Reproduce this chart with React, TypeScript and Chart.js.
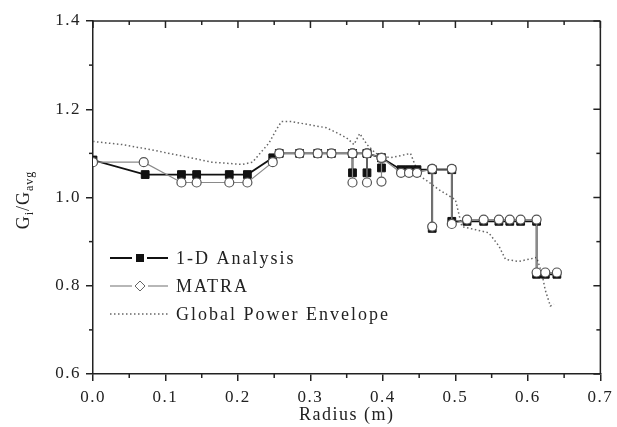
import React, { useEffect, useRef } from 'react';
import { Chart, registerables } from 'chart.js';

Chart.register(...registerables);

// ---- data ----
const radius1D = [0, 0.072, 0.122, 0.143, 0.188, 0.213, 0.248, 0.257, 0.285, 0.31, 0.329, 0.358, 0.358, 0.358, 0.378, 0.378, 0.378, 0.398, 0.398, 0.398, 0.425, 0.436, 0.447, 0.468, 0.468, 0.468, 0.495, 0.495, 0.516, 0.539, 0.56, 0.575, 0.59, 0.612, 0.612, 0.624, 0.64];
const ratio1D = [1.085, 1.052, 1.052, 1.052, 1.052, 1.052, 1.09, 1.1, 1.1, 1.1, 1.1, 1.1, 1.056, 1.1, 1.1, 1.056, 1.1, 1.09, 1.067, 1.09, 1.063, 1.063, 1.063, 1.063, 0.93, 1.063, 1.063, 0.946, 0.946, 0.946, 0.946, 0.946, 0.946, 0.946, 0.826, 0.826, 0.826];

const radiusMATRA = [0, 0.07, 0.122, 0.143, 0.188, 0.213, 0.248, 0.257, 0.285, 0.31, 0.329, 0.358, 0.358, 0.358, 0.378, 0.378, 0.378, 0.398, 0.398, 0.398, 0.425, 0.436, 0.447, 0.468, 0.468, 0.468, 0.495, 0.495, 0.516, 0.539, 0.56, 0.575, 0.59, 0.612, 0.612, 0.624, 0.64];
const ratioMATRA = [1.08, 1.08, 1.034, 1.034, 1.034, 1.034, 1.08, 1.1, 1.1, 1.1, 1.1, 1.1, 1.034, 1.1, 1.1, 1.034, 1.1, 1.09, 1.036, 1.09, 1.056, 1.056, 1.056, 1.065, 0.934, 1.065, 1.065, 0.94, 0.95, 0.95, 0.95, 0.95, 0.95, 0.95, 0.83, 0.83, 0.83];

const radiusEnvelope = [0, 0.04, 0.081, 0.12, 0.164, 0.206, 0.22, 0.243, 0.253, 0.26, 0.274, 0.298, 0.322, 0.336, 0.35, 0.36, 0.368, 0.378, 0.39, 0.41, 0.425, 0.438, 0.45, 0.464, 0.477, 0.5, 0.509, 0.528, 0.546, 0.56, 0.569, 0.587, 0.612, 0.619, 0.624, 0.631, 0.636];
const ratioEnvelope = [1.127, 1.12, 1.108, 1.095, 1.08, 1.075, 1.08, 1.124, 1.154, 1.172, 1.172, 1.165, 1.158, 1.147, 1.135, 1.12, 1.145, 1.12, 1.1, 1.09, 1.095, 1.1, 1.05, 1.034, 1.018, 0.995, 0.934, 0.927, 0.92, 0.89, 0.86, 0.855, 0.864, 0.83, 0.79, 0.754, 0.758];

const xTicks = [0, 0.1, 0.2, 0.3, 0.4, 0.5, 0.6, 0.7];
const xMinorTicks = [0.05, 0.15, 0.25, 0.35, 0.45, 0.55, 0.65];
const yTicks = [0.6, 0.8, 1.0, 1.2, 1.4];
const yMinorTicks = [0.7, 0.9, 1.1, 1.3];

const legendLabels = ['1-D Analysis', 'MATRA', 'Global Power Envelope'];
const xTitle = 'Radius (m)';
const yTitleParts = [['G', 0], ['i', 1], ['/G', 0], ['avg', 1]];

const FONT = '"Liberation Serif", "Times New Roman", serif';
const INK = '#222';

const pts = (xs: number[], ys: number[]) => xs.map((x, i) => ({ x, y: ys[i] }));

const decorPlugin = {
  id: 'decor',
  beforeDraw(chart: any) {
    (chart.ctx as any).letterSpacing = '1.5px';
  },
  afterDraw(chart: any) {
    const { ctx, chartArea: a, scales } = chart;
    const xs = scales.x;
    const ys = scales.y;
    ctx.save();
    ctx.strokeStyle = INK;
    ctx.lineWidth = 1.5;
    const line = (x1: number, y1: number, x2: number, y2: number) => {
      ctx.beginPath();
      ctx.moveTo(x1, y1);
      ctx.lineTo(x2, y2);
      ctx.stroke();
    };
    // top and right frame
    line(a.left, a.top, a.right, a.top);
    line(a.right, a.top, a.right, a.bottom);
    // ticks
    xTicks.forEach((v) => {
      const p = xs.getPixelForValue(v);
      line(p, a.top, p, a.top + 7);
    });
    xMinorTicks.forEach((v) => {
      const p = xs.getPixelForValue(v);
      line(p, a.bottom, p, a.bottom + 4);
      line(p, a.top, p, a.top + 4);
    });
    yTicks.forEach((v) => {
      const p = ys.getPixelForValue(v);
      line(a.right, p, a.right - 7, p);
    });
    yMinorTicks.forEach((v) => {
      const p = ys.getPixelForValue(v);
      line(a.left - 4, p, a.left, p);
      line(a.right, p, a.right - 4, p);
    });

    // y title with subscripts
    ctx.fillStyle = INK;
    (ctx as any).letterSpacing = '1px';
    ctx.textBaseline = 'middle';
    ctx.textAlign = 'left';
    const big = `18px ${FONT}`;
    const small = `12px ${FONT}`;
    let total = 0;
    yTitleParts.forEach(([t, sub]) => {
      ctx.font = sub ? small : big;
      total += ctx.measureText(t as string).width;
    });
    ctx.save();
    ctx.translate(24, 200);
    ctx.rotate(-Math.PI / 2);
    let cx = -total / 2;
    yTitleParts.forEach(([t, sub]) => {
      ctx.font = sub ? small : big;
      ctx.fillText(t as string, cx, sub ? 6 : 0);
      cx += ctx.measureText(t as string).width;
    });
    ctx.restore();

    // legend
    const rows = [258, 286, 314];
    (ctx as any).letterSpacing = '2px';
    ctx.font = `18px ${FONT}`;
    rows.forEach((ry, i) => {
      ctx.save();
      if (i === 0) {
        ctx.strokeStyle = '#111';
        ctx.lineWidth = 2;
        line(110, ry, 132, ry);
        line(147, ry, 168, ry);
        ctx.fillStyle = '#111';
        ctx.fillRect(136, ry - 4, 8, 8);
      } else if (i === 1) {
        ctx.strokeStyle = '#888';
        ctx.lineWidth = 1.2;
        line(110, ry, 132, ry);
        line(148, ry, 168, ry);
        ctx.beginPath();
        ctx.moveTo(140, ry - 5);
        ctx.lineTo(145, ry);
        ctx.lineTo(140, ry + 5);
        ctx.lineTo(135, ry);
        ctx.closePath();
        ctx.fillStyle = '#fff';
        ctx.fill();
        ctx.strokeStyle = '#666';
        ctx.lineWidth = 1;
        ctx.stroke();
      } else {
        ctx.strokeStyle = '#666';
        ctx.lineWidth = 1.5;
        ctx.setLineDash([1.5, 2.5]);
        line(110, ry, 168, ry);
      }
      ctx.restore();
      ctx.fillStyle = INK;
      ctx.textBaseline = 'middle';
      ctx.fillText(legendLabels[i], 176, ry + 1);
    });
    ctx.restore();
  },
};

export default function App() {
  const ref = useRef<HTMLCanvasElement | null>(null);

  useEffect(() => {
    if (!ref.current) return;
    const chart = new Chart(ref.current, {
      type: 'scatter',
      data: {
        datasets: [
          {
            label: legendLabels[0],
            data: pts(radius1D, ratio1D),
            order: 1,
            showLine: true,
            borderColor: '#111',
            borderWidth: 1.8,
            pointStyle: 'rect',
            pointRadius: 5.5,
            pointBackgroundColor: '#111',
            pointBorderColor: '#111',
            pointBorderWidth: 1,
          },
          {
            label: legendLabels[1],
            data: pts(radiusMATRA, ratioMATRA),
            order: 0,
            showLine: true,
            borderColor: '#8a8a8a',
            borderWidth: 1.2,
            pointStyle: 'circle',
            pointRadius: 4.5,
            pointBackgroundColor: '#fff',
            pointBorderColor: '#555',
            pointBorderWidth: 1.2,
          },
          {
            label: legendLabels[2],
            data: pts(radiusEnvelope, ratioEnvelope),
            order: 2,
            showLine: true,
            borderColor: '#666',
            borderWidth: 1.5,
            borderDash: [1.5, 2.5],
            pointRadius: 0,
            tension: 0,
          },
        ],
      },
      options: {
        animation: false,
        responsive: false,
        devicePixelRatio: 1,
        layout: { padding: { top: 21, right: 15, left: 0, bottom: 0 } },
        plugins: { legend: { display: false }, tooltip: { enabled: false } },
        scales: {
          x: {
            type: 'linear',
            min: 0,
            max: 0.7,
            afterBuildTicks: (s: any) => {
              s.ticks = xTicks.map((v) => ({ value: v }));
            },
            afterFit: (s: any) => {
              s.height = 53;
            },
            ticks: {
              autoSkip: false,
              maxRotation: 0,
              padding: 6,
              color: INK,
              font: { family: FONT, size: 17 },
              callback: (v: any) => Number(v).toFixed(1),
            },
            grid: { drawOnChartArea: false, drawTicks: true, tickLength: 7, color: INK, lineWidth: 1.5 },
            border: { display: true, color: INK, width: 1.5 },
            title: {
              display: true,
              text: xTitle,
              color: INK,
              font: { family: FONT, size: 18 },
              padding: { top: 0, bottom: 1 },
            },
          },
          y: {
            type: 'linear',
            min: 0.6,
            max: 1.4,
            afterBuildTicks: (s: any) => {
              s.ticks = yTicks.map((v) => ({ value: v }));
            },
            afterFit: (s: any) => {
              s.width = 93;
            },
            ticks: {
              padding: 5,
              color: INK,
              font: { family: FONT, size: 17 },
              callback: (v: any) => Number(v).toFixed(1),
            },
            grid: { drawOnChartArea: false, drawTicks: true, tickLength: 7, color: INK, lineWidth: 1.5 },
            border: { display: true, color: INK, width: 1.5 },
            title: { display: false },
          },
        },
      },
      plugins: [decorPlugin],
    });
    return () => chart.destroy();
  }, []);

  return (
    <div style={{ position: 'absolute', left: 0, top: 0, width: 617, height: 427, background: '#fff' }}>
      <canvas ref={ref} width={617} height={427} style={{ width: 617, height: 427, display: 'block' }} />
    </div>
  );
}
